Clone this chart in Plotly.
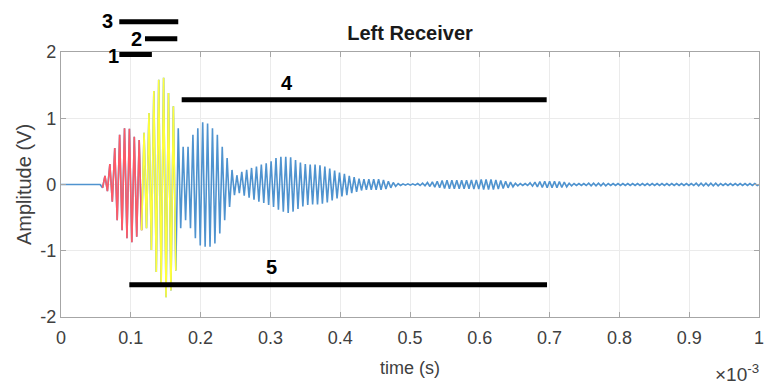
import plotly.graph_objects as go

# ---------------- data ----------------
T0 = 0.063e-3        # time of the first positive peak (s)
PERIOD = 7.0e-6      # carrier period measured from stroke spacing (s)
LEAD_DIP = -0.05     # small dip just before the burst (V)
END_TIME = 1.0e-3

# one positive peak and one negative trough per carrier cycle (V)
RED_PEAKS = [0.13, 0.31, 0.55, 0.75, 0.85, 0.84, 0.72, 0.67]
RED_TROUGHS = [-0.10, -0.26, -0.54, -0.69, -0.81, -0.87, -0.79, -0.69]

YELLOW_PEAKS = [0.78, 1.08, 1.41, 1.58, 1.61, 1.38, 1.18]
YELLOW_TROUGHS = [-0.66, -0.99, -1.32, -1.49, -1.70, -1.60, -1.30]

BLUE_PEAKS = [
    0.85, 0.57, 0.57, 0.75, 0.85, 0.94, 0.92, 0.85, 0.75, 0.57, 0.40, 0.22, 0.14,
    0.19, 0.22, 0.25, 0.27, 0.30, 0.32, 0.35, 0.40, 0.42, 0.42, 0.41, 0.37, 0.33,
    0.31, 0.30, 0.30, 0.29, 0.27, 0.24, 0.21, 0.18, 0.16, 0.13, 0.11, 0.09, 0.08,
    0.08, 0.08, 0.08, 0.07, 0.05, 0.03,
    0.015, 0.01, 0.01, 0.01, 0.015, 0.02, 0.03, 0.04, 0.05, 0.06,
    0.065, 0.065, 0.065, 0.065, 0.065, 0.07, 0.07, 0.075, 0.075, 0.075,
    0.07, 0.06, 0.05, 0.035, 0.02, 0.015, 0.015, 0.025, 0.035, 0.045,
    0.05, 0.05, 0.05, 0.045, 0.035, 0.02,
    0.015, 0.015, 0.015, 0.02, 0.02, 0.02, 0.02, 0.015, 0.015, 0.015,
    0.015, 0.015, 0.015, 0.015, 0.015, 0.015, 0.015, 0.015, 0.015, 0.015,
    0.015, 0.015, 0.015, 0.015, 0.015, 0.02, 0.02, 0.02, 0.02, 0.02,
    0.015, 0.015, 0.015, 0.015, 0.015, 0.015, 0.015, 0.015,
]
BLUE_TROUGHS = [
    -0.66, -0.54, -0.66, -0.81, -0.92, -0.94, -0.94, -0.89, -0.74, -0.54, -0.34, -0.16, -0.13,
    -0.17, -0.20, -0.23, -0.26, -0.28, -0.31, -0.34, -0.38, -0.41, -0.43, -0.41, -0.37, -0.33,
    -0.31, -0.30, -0.30, -0.29, -0.27, -0.24, -0.21, -0.18, -0.16, -0.13, -0.11, -0.09, -0.08,
    -0.08, -0.08, -0.08, -0.07, -0.05, -0.03,
    -0.015, -0.01, -0.01, -0.01, -0.015, -0.02, -0.03, -0.04, -0.05, -0.06,
    -0.065, -0.065, -0.065, -0.065, -0.065, -0.07, -0.07, -0.075, -0.075, -0.075,
    -0.07, -0.06, -0.05, -0.035, -0.02, -0.015, -0.015, -0.025, -0.035, -0.045,
    -0.05, -0.05, -0.05, -0.045, -0.035, -0.02,
    -0.015, -0.015, -0.015, -0.02, -0.02, -0.02, -0.02, -0.015, -0.015, -0.015,
    -0.015, -0.015, -0.015, -0.015, -0.015, -0.015, -0.015, -0.015, -0.015, -0.015,
    -0.015, -0.015, -0.015, -0.015, -0.015, -0.02, -0.02, -0.02, -0.02, -0.02,
    -0.015, -0.015, -0.015, -0.015, -0.015, -0.015, -0.015, -0.015,
]

X_TICKS = [0, 0.1e-3, 0.2e-3, 0.3e-3, 0.4e-3, 0.5e-3, 0.6e-3, 0.7e-3, 0.8e-3, 0.9e-3, 1.0e-3]
X_TICK_LABELS = ["0", "0.1", "0.2", "0.3", "0.4", "0.5", "0.6", "0.7", "0.8", "0.9", "1"]
Y_TICKS = [-2, -1, 0, 1, 2]
Y_TICK_LABELS = ["-2", "-1", "0", "1", "2"]

# annotation bars: label, start time, end time, level (V)
BAR_LABELS = ["1", "2", "3", "4", "5"]
BAR_X0 = [0.0836e-3, 0.1203e-3, 0.0835e-3, 0.1729e-3, 0.0979e-3]
BAR_X1 = [0.1302e-3, 0.1666e-3, 0.1680e-3, 0.6958e-3, 0.6963e-3]
BAR_Y = [1.962, 2.20, 2.458, 1.28, -1.512]
LABEL_X = [0.0750e-3, 0.1085e-3, 0.0659e-3, 0.3240e-3, 0.3020e-3]
LABEL_Y = [1.94, 2.20, 2.47, 1.53, -1.24]

Y_MIN, Y_MAX = -2, 2

# ---------------- build the waveform ----------------
peaks = RED_PEAKS + YELLOW_PEAKS + BLUE_PEAKS
troughs = RED_TROUGHS + YELLOW_TROUGHS + BLUE_TROUGHS
t = [0.0, T0 - PERIOD, T0 - PERIOD / 2]
v = [0.0, 0.0, LEAD_DIP]
for k, (p, q) in enumerate(zip(peaks, troughs)):
    t += [T0 + k * PERIOD, T0 + (k + 0.5) * PERIOD]
    v += [p, q]
t.append(END_TIME)
v.append(0.0)

n_red = len(RED_PEAKS)
n_yel = len(YELLOW_PEAKS)
red_lo, red_hi = 2, 2 + 2 * n_red
yel_lo, yel_hi = red_hi, 2 + 2 * (n_red + n_yel)

FONT = "Liberation Sans, Arial, Helvetica, sans-serif"
BLUE = "#4f93cf"
RED = "#ff5a66"
YELLOW = "#ffff3c"

fig = go.Figure()
fig.add_trace(go.Scatter(x=t, y=v, mode="lines", line=dict(color=BLUE, width=1.6),
                         hoverinfo="skip", showlegend=False))
fig.add_trace(go.Scatter(x=t[red_lo:red_hi + 1], y=v[red_lo:red_hi + 1], mode="lines",
                         line=dict(color=RED, width=1.6), hoverinfo="skip", showlegend=False))
fig.add_trace(go.Scatter(x=t[yel_lo:yel_hi + 1], y=v[yel_lo:yel_hi + 1], mode="lines",
                         line=dict(color=YELLOW, width=1.6), hoverinfo="skip", showlegend=False))

def to_paper(val):
    return (val - Y_MIN) / (Y_MAX - Y_MIN)

for lab, x0, x1, yb, lx, ly in zip(BAR_LABELS, BAR_X0, BAR_X1, BAR_Y, LABEL_X, LABEL_Y):
    fig.add_shape(type="line", xref="x", yref="paper", x0=x0, x1=x1,
                  y0=to_paper(yb), y1=to_paper(yb), line=dict(color="black", width=5),
                  layer="above")
    fig.add_annotation(text="<b>%s</b>" % lab, xref="x", yref="paper", x=lx, y=to_paper(ly),
                       showarrow=False, font=dict(family=FONT, size=20, color="black"),
                       xanchor="center", yanchor="middle")

fig.add_annotation(text="\u00d710<sup>-3</sup>", xref="paper", yref="paper", x=1.003, y=-0.21,
                   showarrow=False, xanchor="right", yanchor="middle",
                   font=dict(family=FONT, size=19, color="#404040"))

axis_common = dict(showgrid=True, gridcolor="#ebebeb", gridwidth=1, zeroline=False,
                   showline=True, linecolor="#a6a6a6", linewidth=1.3, mirror="ticks",
                   ticks="inside", ticklen=5, tickcolor="#a6a6a6", automargin=False,
                   tickfont=dict(family=FONT, size=18, color="#404040"))

fig.update_layout(
    width=769, height=389,
    margin=dict(l=61, r=10, t=52, b=72, pad=0, autoexpand=False),
    paper_bgcolor="white", plot_bgcolor="white",
    title=dict(text="<b>Left Receiver</b>", x=0.5, xref="paper", xanchor="center",
               y=1 - 33 / 389, yref="container", yanchor="middle", automargin=False,
               font=dict(family=FONT, size=20, color="#1a1a1a")),
    xaxis=dict(range=[0, END_TIME], tickvals=X_TICKS, ticktext=X_TICK_LABELS,
               ticklabelstandoff=4,
               title=dict(text="time (s)", font=dict(family=FONT, size=18, color="#404040"),
                          standoff=14),
               **axis_common),
    yaxis=dict(range=[Y_MIN, Y_MAX], tickvals=Y_TICKS, ticktext=Y_TICK_LABELS,
               title=dict(text="Amplitude (V)", font=dict(family=FONT, size=20, color="#404040"),
                          standoff=3),
               **axis_common),
)

fig.write_html("out.html")
